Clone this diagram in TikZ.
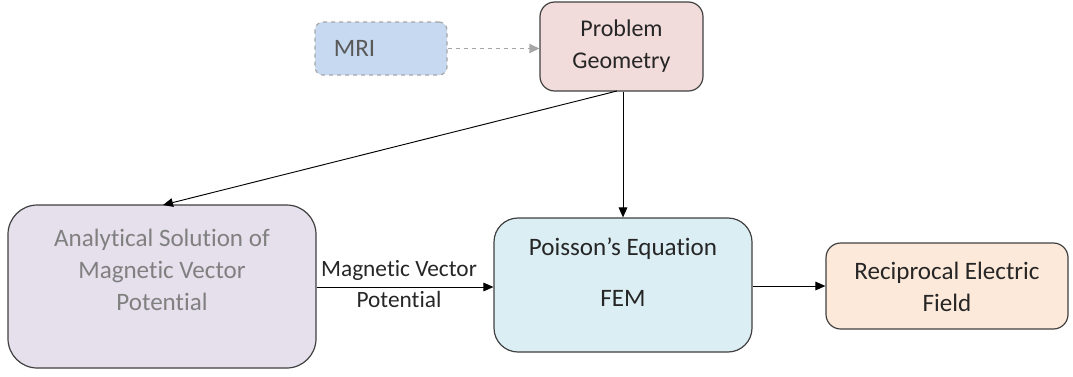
\documentclass[tikz,border=0pt]{standalone}
\usepackage{fontspec}
\setmainfont{Carlito}[Ligatures=NoCommon]
\usetikzlibrary{arrows.meta,calc}
\definecolor{mrifill}{HTML}{C6D9F0}
\definecolor{mriline}{HTML}{A6A6A6}
\definecolor{mritext}{HTML}{595959}
\definecolor{pgfill}{HTML}{F2DCDB}
\definecolor{anfill}{HTML}{E5E0EC}
\definecolor{antext}{HTML}{808080}
\definecolor{pofill}{HTML}{DBEEF3}
\definecolor{refill}{HTML}{FDE9D9}
\definecolor{edge}{HTML}{404040}
\tikzset{
  box/.style={draw=edge, line width=0.9pt, inner sep=0pt},
  txt/.style={font=\fontsize{18.8}{24}\selectfont, align=center, text=black!85},
  arr/.style={-{Triangle[length=7.5pt,width=6.5pt]}, line width=0.7pt, draw=black},
}
\begin{document}
\begin{tikzpicture}[x=0.75pt,y=-0.75pt]
\useasboundingbox (0,0) rectangle (1073,376);
% boxes
\node[box, draw=mriline, dashed, fill=mrifill, rounded corners=6pt,
  minimum width=132*0.75pt, minimum height=53*0.75pt] (mri) at (381,48.5) {};
\node[txt, text=mritext] (mrit) at (354.5,48) {MRI};
\node[box, fill=pgfill, rounded corners=11pt,
  minimum width=163*0.75pt, minimum height=89*0.75pt] (pg) at (621.5,46.5) {};
\node[txt, font=\fontsize{18}{24}\selectfont] (pgt) at (621.5,46.5) {Problem\\Geometry};
\node[box, fill=anfill, rounded corners=22pt,
  minimum width=308*0.75pt, minimum height=163*0.75pt] (an) at (162,286.5) {};
\node[txt, text=antext] (ant) at (162,270) {Analytical Solution of\\Magnetic Vector\\Potential};
\node[box, fill=pofill, rounded corners=18pt,
  minimum width=258*0.75pt, minimum height=134*0.75pt] (po) at (623,285) {};
\node[txt] (pot1) at (623,249) {Poisson’s Equation};
\node[txt] (pot2) at (623,298) {FEM};
\node[box, fill=refill, rounded corners=11pt,
  minimum width=242*0.75pt, minimum height=86*0.75pt] (re) at (947,286) {};
\node[txt] (ret) at (947,287) {Reciprocal Electric\\Field};
% connectors
\draw[arr, draw=mriline, dashed, line width=0.9pt,
  -{Triangle[length=7.5pt,width=7pt,fill=mriline]}] (mri.east) -- (pg.west |- mri.east);
\draw[arr] (617,91) coordinate (pgs) -- (163,205);
\draw[arr] (pg.south -| 623,0) -- (po.north -| 623,0);
\draw[arr] (an.east |- 0,287) -- (po.west |- 0,287);
\node[txt, font=\fontsize{17.5}{23.5}\selectfont] (mvp) at (399,284) {Magnetic Vector\\Potential};
\draw[arr] (po.east |- 0,286) -- (re.west |- 0,286);
\end{tikzpicture}
\end{document}
